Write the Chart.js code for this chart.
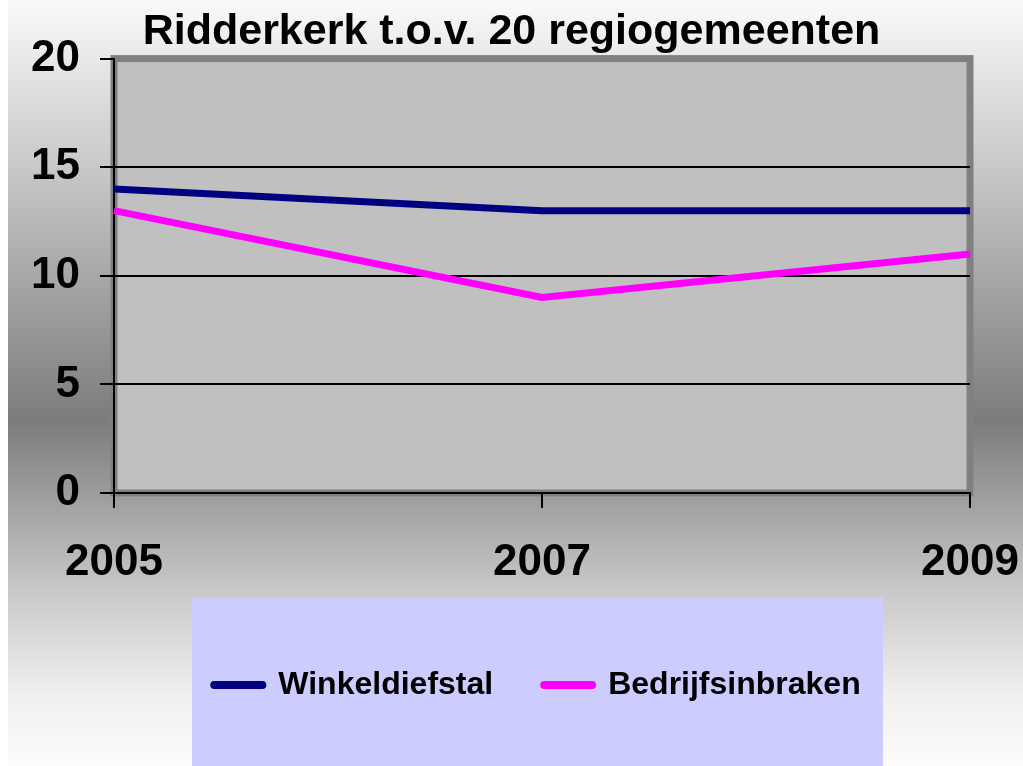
<!DOCTYPE html>
<html>
<head>
<meta charset="utf-8">
<script src="https://cdn.jsdelivr.net/npm/chart.js@4"></script>
<style>
  html, body { margin: 0; padding: 0; background: #fff; }
  #wrap { width: 1023px; height: 766px; position: relative; }
</style>
</head>
<body>
<div id="wrap"><canvas id="chart"></canvas></div>
<script>
const years = ['2005', '2007', '2009']
const winkeldiefstal = [14, 13, 13]
const bedrijfsinbraken = [13, 9, 11]
const yTicks = [0, 5, 10, 15, 20]

Chart.defaults.font.family = "'Liberation Sans', Arial, sans-serif"
Chart.defaults.color = '#000'

// background, legend panel and the grey plot wall
const backdrop = {
  id: 'backdrop',
  afterLayout(chart) {
    // legend sits a bit right of the canvas centre in the original
    chart.legend.left += 52
  },
  beforeDraw(chart) {
    const { ctx, width, height, chartArea: a, legend } = chart
    ctx.save()
    ctx.fillStyle = '#ffffff'
    ctx.fillRect(0, 0, width, height)
    const g = ctx.createLinearGradient(0, 0, 0, height)
    g.addColorStop(0, '#fafafa')
    g.addColorStop(0.55, '#7c7c7c')
    g.addColorStop(0.77, '#c8c8c8')
    g.addColorStop(0.91, '#f0f0f0')
    g.addColorStop(1, '#fcfcfc')
    ctx.fillStyle = g
    ctx.fillRect(8, 0, width - 8, height)

    const cx = (legend.left + legend.right) / 2
    ctx.fillStyle = '#ccccff'
    ctx.fillRect(cx - 345.5, legend.top - 21, 691, height - legend.top + 21)

    ctx.fillStyle = '#c0c0c0'
    ctx.fillRect(a.left, a.top, a.right - a.left, a.bottom - a.top)
    ctx.strokeStyle = '#808080'
    ctx.lineWidth = 7
    ctx.strokeRect(a.left, a.top, a.right - a.left, a.bottom - a.top)
    ctx.restore()
  }
}

new Chart(document.getElementById('chart'), {
  type: 'line',
  data: {
    labels: years,
    datasets: [
      { label: 'Winkeldiefstal', data: winkeldiefstal, borderColor: '#000080', backgroundColor: '#000080', borderWidth: 7, pointRadius: 0, tension: 0 },
      { label: 'Bedrijfsinbraken', data: bedrijfsinbraken, borderColor: '#ff00ff', backgroundColor: '#ff00ff', borderWidth: 7, pointRadius: 0, tension: 0 }
    ]
  },
  options: {
    responsive: true,
    maintainAspectRatio: false,
    animation: false,
    layout: { padding: { left: 0, right: 0, top: 0, bottom: 55 } },
    plugins: {
      title: {
        display: true,
        text: 'Ridderkerk t.o.v. 20 regiogemeenten',
        color: '#000',
        font: { size: 43, weight: 'bold' },
        padding: { top: 6, bottom: 1 }
      },
      legend: {
        position: 'bottom',
        labels: {
          usePointStyle: true,
          pointStyle: 'line',
          pointStyleWidth: 48,
          padding: 51,
          color: '#000',
          font: { size: 32, weight: 'bold' },
          generateLabels(chart) {
            const items = Chart.defaults.plugins.legend.labels.generateLabels(chart)
            items.forEach(i => { i.lineCap = 'round'; i.lineWidth = 8 })
            return items
          }
        }
      },
      tooltip: { enabled: false }
    },
    scales: {
      x: {
        offset: false,
        ticks: { color: '#000', font: { size: 44, weight: 'bold' }, padding: 28, maxRotation: 0, autoSkip: false },
        grid: { drawOnChartArea: false, tickColor: '#000', tickLength: 15, lineWidth: 2 },
        border: { color: '#000', width: 2 },
        afterFit(s) { s.height = 125; s.paddingLeft = 0; s.paddingRight = 53 }
      },
      y: {
        min: yTicks[0],
        max: yTicks[yTicks.length - 1],
        afterBuildTicks(s) { s.ticks = yTicks.map(v => ({ value: v })) },
        ticks: { color: '#000', font: { size: 44, weight: 'bold' }, padding: 20 },
        grid: {
          color: c => (c.tick && c.tick.value === 20) ? 'rgba(0,0,0,0)' : '#000',
          tickColor: '#000',
          tickLength: 14,
          lineWidth: 2
        },
        border: { color: '#000', width: 2 },
        afterFit(s) { s.width = 114 }
      }
    }
  },
  plugins: [backdrop]
})
</script>
</body>
</html>
